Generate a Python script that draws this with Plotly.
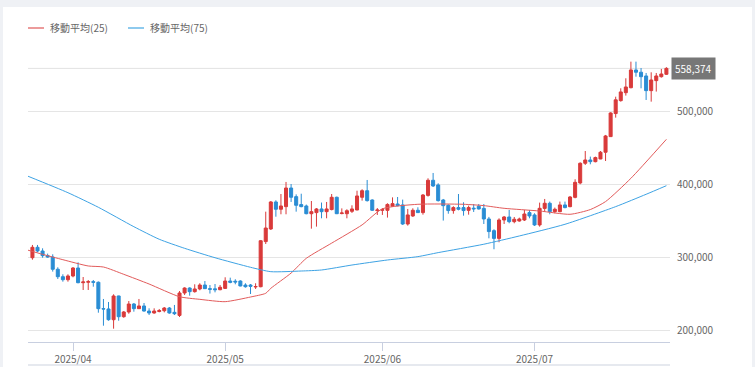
import pandas as pd
import plotly.graph_objects as go

# ---- data (ETH/JPY daily candles) ----
start_date = "2025-03-24"
open_ = [299000, 313300, 308200, 301800, 300000, 283200, 273000, 268900, 274000, 284900,
         264800, 265500, 266200, 265400, 229200, 228800, 214100, 246600, 218200, 224700,
         235600, 229200, 232900, 226000, 223300, 225300, 226400, 230100, 224200, 220000,
         250700, 257500, 252500, 256200, 261600, 256600, 256400, 255200, 257000, 267100,
         266800, 267100, 261600, 261600, 259000, 259300, 321100, 338400, 375400, 365400,
         369000, 394500, 382700, 371800, 369900, 359300, 360800, 365800, 362100, 365000,
         381800, 359500, 359300, 362600, 364400, 381800, 390800, 378100, 363600, 364000,
         363900, 369500, 372600, 371300, 345200, 356200, 364000, 360800, 384400, 405100,
         398700, 378100, 370800, 363600, 367700, 367700, 363900, 366900, 369500, 366600,
         352100, 336100, 325500, 350700, 354800, 348400, 349300, 350700, 360800, 357600,
         343900, 366600, 373600, 362100, 362100, 371300, 369000, 381700, 401400, 428400,
         432900, 430600, 434300, 443500, 464900, 496500, 514200, 525100, 531900, 556200,
         553100, 548000, 527900, 541600, 547000, 550300]
high = [316500, 316500, 311900, 304600, 303700, 285900, 276300, 276300, 286200, 292700,
        272600, 268500, 268500, 266500, 242500, 238400, 248900, 247000, 226000, 239700,
        237000, 242500, 237000, 229700, 229700, 228800, 231500, 231500, 234300, 253400,
        258500, 258500, 262600, 264000, 267100, 261600, 263000, 261600, 272200, 271700,
        269500, 268100, 264000, 263000, 264000, 323300, 362100, 376700, 377700, 386300,
        402800, 400000, 385800, 386700, 371800, 376700, 367100, 374600, 375400, 386300,
        382700, 366600, 365400, 370800, 390800, 392800, 405500, 379000, 367100, 367100,
        373600, 381700, 382200, 378600, 365800, 366700, 368100, 386300, 407800, 415100,
        401000, 379500, 372100, 369500, 386300, 375000, 370400, 372600, 372600, 372600,
        354900, 338000, 353000, 356200, 364400, 354800, 353900, 364400, 364400, 359900,
        374500, 379500, 375900, 367700, 375900, 375900, 383600, 406500, 429700, 445200,
        437500, 437500, 445200, 467200, 498200, 519600, 531100, 544800, 567600, 567600,
        558900, 552100, 553000, 552100, 557600, 560000]
low = [296300, 306400, 299000, 299000, 280000, 269900, 266200, 266200, 272200, 264000,
       254800, 254800, 259300, 223700, 205900, 212700, 201800, 212700, 216800, 222300,
       225100, 228800, 225100, 220500, 222300, 224200, 224200, 222300, 220500, 217800,
       248000, 247000, 251200, 254400, 256200, 249900, 251600, 254400, 256200, 264000,
       262600, 259800, 258000, 249300, 256200, 258500, 317800, 337000, 355200, 358500,
       358500, 375400, 362100, 368100, 358500, 338800, 341600, 353000, 353000, 363900,
       358800, 358500, 353000, 360300, 364000, 377200, 375900, 363000, 357600, 357600,
       354000, 369000, 369500, 343900, 343000, 354900, 360300, 358000, 382700, 395900,
       375900, 349900, 359300, 359300, 363900, 356600, 358000, 361700, 365000, 345200,
       325600, 310600, 320200, 345200, 346200, 346200, 348400, 349300, 353000, 342500,
       341600, 362100, 358500, 359900, 361200, 366700, 368100, 380400, 399600, 426100,
       427000, 429700, 434000, 431500, 464500, 490900, 512800, 521100, 531100, 547000,
       531100, 515100, 512800, 526600, 545700, 549400]
close = [313300, 308200, 301800, 300000, 283200, 273000, 268900, 274000, 284900, 264800,
         265800, 266200, 265400, 229200, 228800, 214100, 246600, 218200, 224700, 235600,
         229200, 232900, 226000, 223300, 226000, 226600, 230100, 223300, 222300, 250700,
         257500, 252500, 256200, 261600, 256600, 255800, 255200, 258500, 267100, 265300,
         265800, 260300, 259300, 259800, 259500, 322300, 339700, 375400, 365400, 369900,
         394500, 381800, 370800, 369000, 359300, 362100, 365800, 362100, 365800, 381800,
         359300, 360300, 363400, 365800, 383600, 390800, 377200, 364000, 364400, 364800,
         372000, 373100, 370300, 345200, 357600, 364000, 360800, 384900, 405100, 397300,
         377200, 370300, 363600, 367700, 365400, 363600, 367700, 366000, 365800, 352100,
         334800, 325500, 350700, 354800, 348400, 351700, 352100, 358900, 356200, 343900,
         366700, 373600, 362100, 365400, 371300, 367700, 382200, 402300, 428400, 432900,
         430600, 436200, 443500, 465800, 497300, 515300, 526100, 532900, 556200, 553100,
         547000, 527900, 542500, 548000, 550700, 558374]

ma25_dates = ["2025-03-23", "2025-03-26", "2025-03-30", "2025-04-04", "2025-04-07",
              "2025-04-11", "2025-04-16", "2025-04-22", "2025-04-26", "2025-05-01",
              "2025-05-06", "2025-05-09", "2025-05-10", "2025-05-14", "2025-05-17",
              "2025-05-22", "2025-05-28", "2025-06-01", "2025-06-08", "2025-06-17",
              "2025-06-21", "2025-06-25", "2025-07-02", "2025-07-08", "2025-07-12",
              "2025-07-15", "2025-07-20", "2025-07-27"]
ma25_vals = [309600, 303700, 296300, 287700, 286300,
             276300, 263000, 245600, 242000, 238800,
             245200, 250300, 257100, 278000, 298200,
             319000, 344000, 366000, 372200, 372200,
             370400, 366700, 363000, 358500, 365000,
             375900, 407800, 461200]

ma75_dates = ["2025-03-23", "2025-03-31", "2025-04-06", "2025-04-13", "2025-04-18",
              "2025-04-23", "2025-04-29", "2025-05-06", "2025-05-10", "2025-05-16",
              "2025-05-20", "2025-05-26", "2025-06-02", "2025-06-08", "2025-06-12",
              "2025-06-21", "2025-06-28", "2025-07-07", "2025-07-17", "2025-07-23",
              "2025-07-27"]
ma75_vals = [411000, 388100, 368100, 341500, 324300,
             311900, 299000, 285900, 279900, 280800,
             282200, 289000, 295900, 300500, 306000,
             317500, 328800, 344800, 369000, 385900,
             397700]

month_ticks = ["2025-04-01", "2025-05-01", "2025-06-01", "2025-07-01"]
month_labels = ["2025/04", "2025/05", "2025/06", "2025/07"]
y_ticks = [200000, 300000, 400000, 500000]
last_price = close[-1]
legend_names = ["移動平均(25)", "移動平均(75)"]

dates = pd.date_range(start_date, periods=len(close), freq="D")

# ---- styles ----
RED = "#d93a3a"
BLUE = "#2a8dd4"
MA25_C = "#e25b5b"
MA75_C = "#3ea3e4"
FONT = "Noto Sans CJK JP, Noto Sans, sans-serif"
W, H = 755, 367
ML, MR, MT, MB = 28, 85, 50, 25
PW = W - ML - MR
PH = H - MT - MB


def px(xp):
    return (xp - ML) / PW


def py(yp):
    return (H - MB - yp) / PH


fig = go.Figure()
fig.add_trace(go.Candlestick(
    x=dates, open=open_, high=high, low=low, close=close,
    increasing=dict(line=dict(color=RED, width=1), fillcolor=RED),
    decreasing=dict(line=dict(color=BLUE, width=1), fillcolor=BLUE),
    whiskerwidth=0, showlegend=False, hoverinfo="skip"))
fig.add_trace(go.Scatter(x=ma25_dates, y=ma25_vals, mode="lines",
                         line=dict(color=MA25_C, width=1, shape="spline", smoothing=0.6),
                         showlegend=False, hoverinfo="skip"))
fig.add_trace(go.Scatter(x=ma75_dates, y=ma75_vals, mode="lines",
                         line=dict(color=MA75_C, width=1, shape="spline", smoothing=0.6),
                         showlegend=False, hoverinfo="skip"))

shapes = [
    # white panel
    dict(type="rect", xref="paper", yref="paper", x0=px(3), x1=px(752), y0=py(380), y1=py(7),
         fillcolor="white", line=dict(width=0), layer="below"),
    # last price line
    dict(type="line", xref="paper", yref="y", x0=0, x1=1, y0=last_price, y1=last_price,
         line=dict(color="#e2e2e2", width=1), layer="below"),
    # navigator top line
    dict(type="line", xref="paper", yref="paper", x0=0, x1=1, y0=py(365), y1=py(365),
         line=dict(color="#cdd3df", width=1)),
    # legend symbols
    dict(type="line", xref="paper", yref="paper", x0=px(28), x1=px(44), y0=py(28), y1=py(28),
         line=dict(color="#ec9b9b", width=2)),
    dict(type="line", xref="paper", yref="paper", x0=px(128), x1=px(144), y0=py(28), y1=py(28),
         line=dict(color="#8ecaee", width=2)),
]

annotations = [
    dict(xref="paper", yref="paper", x=px(48), y=py(28), xanchor="left", yanchor="middle",
         text=legend_names[0], showarrow=False, font=dict(family=FONT, size=10, color="#666")),
    dict(xref="paper", yref="paper", x=px(148), y=py(28), xanchor="left", yanchor="middle",
         text=legend_names[1], showarrow=False, font=dict(family=FONT, size=10, color="#666")),
    dict(xref="paper", yref="y", x=1, y=last_price, xanchor="left", yanchor="middle", xshift=1,
         text=f"{last_price:,}", showarrow=False, bgcolor="#777777", borderpad=3,
         font=dict(family=FONT, size=10, color="white")),
]

fig.update_layout(
    width=W, height=H,
    margin=dict(l=ML, r=MR, t=MT, b=MB, autoexpand=False),
    paper_bgcolor="#eff1f5", plot_bgcolor="white",
    boxgap=0.15,
    shapes=shapes, annotations=annotations,
    showlegend=False,
    font=dict(family=FONT, size=10, color="#666"),
    xaxis=dict(type="date", range=["2025-03-23 03:00", "2025-07-27 17:00"],
               rangeslider=dict(visible=False), automargin=False,
               tickvals=month_ticks, ticktext=month_labels,
               showgrid=False, zeroline=False,
               ticks="outside", ticklen=8, tickcolor="#c8cfe0",
               showline=True, linecolor="#c8cfe0", linewidth=1,
               tickfont=dict(family=FONT, size=10, color="#666")),
    yaxis=dict(side="right", range=[183560, 583560], tickvals=y_ticks, tickformat=",d",
               automargin=False,
               showgrid=True, gridcolor="#e5e5e5", gridwidth=1, zeroline=False,
               showline=False, ticks="", ticklabelstandoff=6,
               tickfont=dict(family=FONT, size=10, color="#666")),
)

fig.write_html("out.html", config={"displayModeBar": False})

# remove the default page margin so the figure sits at the window origin
with open("out.html", "r", encoding="utf-8") as f:
    html = f.read()
html = html.replace("<head>", "<head><style>html,body{margin:0;padding:0;overflow:hidden;}</style>", 1)
with open("out.html", "w", encoding="utf-8") as f:
    f.write(html)
